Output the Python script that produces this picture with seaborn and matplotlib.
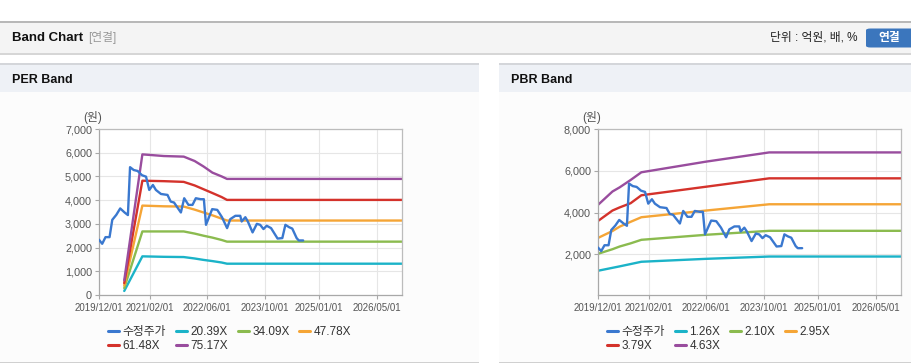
import numpy as np
import pandas as pd
import seaborn as sns
import matplotlib.pyplot as plt
import matplotlib.dates as mdates
from matplotlib.patches import Rectangle, FancyBboxPatch

# adjusted share price (수정주가), shared by both charts
price_dates = [
    "2019-12-01", "2019-12-28", "2020-01-25", "2020-02-28", "2020-03-22", "2020-04-25",
    "2020-05-28", "2020-07-04", "2020-08-01", "2020-08-19", "2020-09-19", "2020-10-22",
    "2020-11-28", "2021-01-01", "2021-01-28", "2021-02-28", "2021-03-25", "2021-05-07",
    "2021-07-01", "2021-07-28", "2021-08-25", "2021-10-22", "2021-11-19", "2021-12-25",
    "2022-01-28", "2022-02-25", "2022-04-07", "2022-05-04", "2022-05-22", "2022-07-13",
    "2022-08-25", "2022-10-04", "2022-11-16", "2022-12-13", "2023-01-25", "2023-03-07",
    "2023-03-19", "2023-04-19", "2023-05-10", "2023-06-19", "2023-07-25", "2023-08-22",
    "2023-09-19", "2023-10-16", "2023-11-22", "2024-01-16", "2024-02-25", "2024-03-22",
    "2024-04-22", "2024-05-19", "2024-06-25", "2024-07-13", "2024-08-19",
]
price = [
    2330, 2160, 2440, 2440, 3170, 3380, 3650, 3480, 3370, 5390, 5270, 5230,
    5050, 4990, 4430, 4640, 4430, 4260, 4220, 3940, 3900, 3480, 4080, 3800,
    3800, 4080, 4040, 4040, 2960, 3620, 3590, 3280, 2820, 3200, 3340, 3340,
    3100, 3280, 3100, 2640, 3000, 2960, 2780, 2920, 2820, 2380, 2400, 2960,
    2860, 2800, 2400, 2300, 2300,
]

# PER band
per_dates = ["2020-07-01", "2020-12-01", "2021-06-01", "2021-11-15", "2022-02-15",
             "2022-05-01", "2022-07-15", "2022-10-01", "2022-11-15", "2026-12-01"]
per_labels = ["20.39X", "34.09X", "47.78X", "61.48X", "75.17X"]
per_20 = [170, 1630, 1610, 1600, 1540, 1480, 1430, 1370, 1320, 1320]
per_34 = [290, 2680, 2680, 2680, 2590, 2500, 2420, 2320, 2250, 2250]
per_47 = [400, 3770, 3740, 3730, 3600, 3480, 3360, 3220, 3140, 3140]
per_61 = [500, 4820, 4800, 4770, 4620, 4460, 4300, 4130, 4010, 4010]
per_75 = [620, 5930, 5860, 5835, 5650, 5420, 5160, 5000, 4895, 4895]

# PBR band
pbr_dates = ["2019-12-01", "2020-04-01", "2020-06-01", "2020-09-01", "2020-12-01",
             "2022-06-01", "2023-11-15", "2026-12-01"]
pbr_labels = ["1.26X", "2.10X", "2.95X", "3.79X", "4.63X"]
pbr_126 = [1220, 1360, 1430, 1540, 1650, 1790, 1900, 1900]
pbr_210 = [2030, 2250, 2380, 2530, 2700, 2940, 3130, 3130]
pbr_295 = [2790, 3120, 3330, 3560, 3780, 4100, 4400, 4400]
pbr_379 = [3600, 4100, 4250, 4450, 4830, 5240, 5640, 5640]
pbr_463 = [4370, 5010, 5210, 5560, 5930, 6440, 6880, 6880]

x_ticks = ["2019-12-01", "2021-02-01", "2022-06-01", "2023-10-01", "2025-01-01", "2026-05-01"]
colors = ["#3a78cf", "#1bb3c8", "#8bbb4f", "#f5a536", "#d4322b", "#994d9e"]

sns.set_theme(style="white")
plt.rcParams["font.family"] = ["Liberation Sans", "Noto Sans CJK KR", "DejaVu Sans"]

W, H = 912, 364
fig = plt.figure(figsize=(W / 100, H / 100), dpi=100)
fig.patch.set_facecolor("white")


def rect(x, y, w, h, **kw):
    fig.patches.append(Rectangle((x / W, 1 - (y + h) / H), w / W, h / H,
                                 transform=fig.transFigure, zorder=-10, **kw))


def ftext(x, y, s, **kw):
    fig.text(x / W, 1 - y / H, s, va="center", **kw)


# top header bar
rect(0, 52, W, 2.5, color="#d6d6d6", lw=0)
rect(0, 22, W, 30.5, color="#f4f4f4", lw=0)
rect(0, 21.5, W, 1.2, color="#b8b8b8", lw=0)
ftext(12, 38, "Band Chart", fontsize=9.5, fontweight="bold", color="#111111")
ftext(88, 38, "[연결]", fontsize=8.5, color="#999999")
ftext(858, 38, "단위 : 억원, 배, %", fontsize=8.5, color="#222222", ha="right")
fig.patches.append(FancyBboxPatch((866 / W, 1 - 47.5 / H), 50 / W, 19 / H,
                                  boxstyle="round,pad=0,rounding_size=0.005",
                                  transform=fig.transFigure, color="#3b76bd", lw=0,
                                  zorder=-5))
ftext(889, 38, "연결", fontsize=8.5, fontweight="bold", color="white", ha="center")

# two panels
for px0, pw, title in [(0, 479, "PER Band"), (499, 413, "PBR Band")]:
    rect(px0, 92, pw, 270, color="#fcfcfc", lw=0)
    rect(px0, 64, pw, 28, color="#eef1f6", lw=0)
    rect(px0, 63.5, pw, 1.2, color="#d4d6da", lw=0)
    rect(px0, 361.5, pw, 1.5, color="#d0d0d0", lw=0)
    ftext(px0 + 12, 80, title, fontsize=9, fontweight="bold", color="#111111")


def make_long(band_dates, band_labels, band_values):
    frames = [pd.DataFrame({"date": pd.to_datetime(price_dates), "value": price,
                            "series": "수정주가"})]
    for lab, vals in zip(band_labels, band_values):
        frames.append(pd.DataFrame({"date": pd.to_datetime(band_dates), "value": vals,
                                    "series": lab}))
    return pd.concat(frames, ignore_index=True)


charts = [
    (99, make_long(per_dates, per_labels, [per_20, per_34, per_47, per_61, per_75]),
     ["수정주가"] + per_labels, (0, 7000), np.arange(0, 7001, 1000)),
    (598, make_long(pbr_dates, pbr_labels, [pbr_126, pbr_210, pbr_295, pbr_379, pbr_463]),
     ["수정주가"] + pbr_labels, (60, 8000), np.arange(2000, 8001, 2000)),
]

for ax_x, df, order, ylim, yticks in charts:
    ax = fig.add_axes([ax_x / W, 1 - 295 / H, 303 / W, 166 / H])
    ax.set_facecolor("white")
    sns.lineplot(data=df, x="date", y="value", hue="series", hue_order=order,
                 palette=colors, estimator=None, linewidth=1.7, ax=ax)
    for i, ln in enumerate(ax.lines[:len(order)]):
        ln.set_zorder(3 if i == 0 else 2.5)
        ln.set_solid_joinstyle("round")

    ax.set_xlim(pd.Timestamp("2019-12-01"), pd.Timestamp("2026-12-01"))
    ax.set_ylim(*ylim)
    ax.set_xticks(pd.to_datetime(x_ticks))
    ax.xaxis.set_major_formatter(mdates.DateFormatter("%Y/%m/%d"))
    ax.set_yticks(yticks)
    ax.set_yticklabels([f"{v:,}" for v in yticks])
    ax.set_xlabel("")
    ax.set_ylabel("")
    ax.grid(True, color="#e6e6e6", lw=0.8)
    ax.set_axisbelow(True)
    for side, sp in ax.spines.items():
        sp.set_visible(True)
        sp.set_color("#bcbcbc" if side in ("top", "right") else "#a8a8a8")
        sp.set_linewidth(0.9)
    ax.tick_params(axis="both", which="major", length=3, width=0.8, color="#a8a8a8",
                   labelcolor="#555555", labelsize=7.8, pad=2, left=True, bottom=True)
    ax.tick_params(axis="x", labelsize=7, pad=3)
    ax.text(-0.02, 1.07, "(원)", transform=ax.transAxes, ha="center", va="center",
            fontsize=8.5, color="#555555")

    # row-major legend: 4 items on the first row, 2 on the second
    old = ax.get_legend()
    handles = list(old.legend_handles)
    labels = [t.get_text() for t in old.get_texts()]
    old.remove()
    idx = [0, 4, 1, 5, 2, 3]
    leg = ax.legend([handles[i] for i in idx], [labels[i] for i in idx],
                    loc="upper left", bbox_to_anchor=((ax_x + 9) / W, 1 - 326 / H),
                    bbox_transform=fig.transFigure, ncol=4, frameon=False,
                    fontsize=8.5, handlelength=0.95, handletextpad=0.3,
                    columnspacing=0.8, labelspacing=0.15, borderpad=0, borderaxespad=0)
    for t in leg.get_texts():
        t.set_color("#333333")
    for h in leg.legend_handles:
        h.set_linewidth(2.2)

fig.savefig("out.png", dpi=100, facecolor=fig.get_facecolor())
